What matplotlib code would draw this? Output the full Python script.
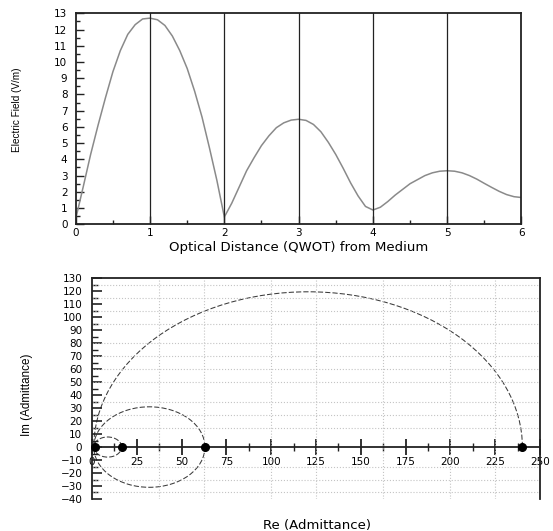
import numpy as np
import matplotlib
matplotlib.use('Agg')
import matplotlib.pyplot as plt
from matplotlib.patches import Arc
from matplotlib.ticker import MultipleLocator

##
## Electric field through the stack (step 0.1 QWOT)
##
qwot = [0.0, 0.1, 0.2, 0.3, 0.4, 0.5, 0.6, 0.7, 0.8, 0.9,
        1.0, 1.1, 1.2, 1.3, 1.4, 1.5, 1.6, 1.7, 1.8, 1.9,
        2.0, 2.1, 2.2, 2.3, 2.4, 2.5, 2.6, 2.7, 2.8, 2.9,
        3.0, 3.1, 3.2, 3.3, 3.4, 3.5, 3.6, 3.7, 3.8, 3.9,
        4.0, 4.1, 4.2, 4.3, 4.4, 4.5, 4.6, 4.7, 4.8, 4.9,
        5.0, 5.1, 5.2, 5.3, 5.4, 5.5, 5.6, 5.7, 5.8, 5.9, 6.0]
efield = [0.35, 2.3, 4.3, 6.1, 7.8, 9.4, 10.7, 11.7, 12.3, 12.65,
          12.7, 12.6, 12.25, 11.6, 10.7, 9.6, 8.2, 6.6, 4.7, 2.7,
          0.45, 1.3, 2.3, 3.3, 4.1, 4.85, 5.45, 5.95, 6.25, 6.42,
          6.47, 6.4, 6.15, 5.7, 5.05, 4.3, 3.45, 2.55, 1.75, 1.1,
          0.88, 1.05, 1.4, 1.8, 2.15, 2.5, 2.75, 3.0, 3.17, 3.27,
          3.3, 3.27, 3.17, 3.0, 2.78, 2.52, 2.27, 2.03, 1.83, 1.7, 1.65]
layer_bounds = [1, 2, 3, 4, 5]

##
## Admittance loci: circles centred on the real axis (centre, radius, arc)
##
circ_centre = [120.6, 32.0, 8.75]
circ_radius = [119.6, 31.0, 7.75]
circ_theta2 = [180, 360, 360]
## admittance at the layer boundaries
node_re = [1.5, 16.5, 63.0, 240.0]
node_im = [0.0, 0.0, 0.0, 0.0]

## grid positions that survive in the picture
xgrid = [37.5, 62.5, 100, 125, 162.5, 200, 225]
ygrid = [125, 115, 105, 95, 80, 70, 60, 50, 35, 25, 15, -15, -25, -35]

narrow = ['Liberation Sans Narrow', 'Liberation Sans', 'DejaVu Sans']
wide = 'DejaVu Sans'
ls = 7.5

fig = plt.figure(figsize=(5.53, 5.31), dpi=100, facecolor='w')

##
##  Top: electric field
##
ax = fig.add_axes([0.137, 0.5776, 0.806, 0.3974])
ax.plot(qwot, efield, color='#8a8a8a', lw=1.1)
for x in layer_bounds:
    ax.axvline(x=x, color='#222222', lw=0.9)
ax.set_xlim(0, 6)
ax.set_ylim(0, 13)
ax.xaxis.set_major_locator(MultipleLocator(1))
ax.xaxis.set_minor_locator(MultipleLocator(0.5))
ax.yaxis.set_major_locator(MultipleLocator(1))
ax.yaxis.set_minor_locator(MultipleLocator(0.5))
ax.tick_params(axis='both', which='major', direction='in', length=6, width=1.0,
               labelsize=ls, color='#222222')
ax.tick_params(axis='both', which='minor', direction='in', length=3, width=1.0,
               color='#222222')
ax.tick_params(axis='y', which='major', pad=6)
ax.tick_params(axis='x', which='major', pad=3)
for lab in ax.get_xticklabels() + ax.get_yticklabels():
    lab.set_family(wide)
for s in ax.spines.values():
    s.set_linewidth(1.3)
    s.set_color('#222222')
ax.set_xlabel('Optical Distance (QWOT) from Medium', family=wide, fontsize=9.5)
ax.xaxis.set_label_coords(0.50, -0.112)
ax.xaxis.label.set_va('center')
ax.set_ylabel('Electric Field (V/m)', family=narrow, fontsize=7.2)
ax.yaxis.set_label_coords(-0.1316, 0.542)
ax.yaxis.label.set_va('center')

##
##  Bottom: admittance diagram
##
ax1 = fig.add_axes([0.1664, 0.0603, 0.810, 0.4156])
for x in xgrid:
    ax1.axvline(x=x, ls=':', color='#c4c4c4', lw=0.8)
for y in ygrid:
    ax1.axhline(y=y, ls=':', color='#c4c4c4', lw=0.8)
for c, r, t2 in zip(circ_centre, circ_radius, circ_theta2):
    arc = Arc((c, 0), 2*r, 2*r, theta1=0, theta2=t2, color='#3a3a3a',
              lw=0.75, ls=(0, (5, 2)))
    ax1.add_patch(arc)
ax1.plot(node_re, node_im, 'o', color='k', ms=5.5, clip_on=False, zorder=5)

ax1.set_xlim(0, 250)
ax1.set_ylim(-40, 130)
ax1.spines['bottom'].set_position(('data', 0))
for s in ax1.spines.values():
    s.set_linewidth(1.3)
    s.set_color('#222222')
ax1.xaxis.set_major_locator(MultipleLocator(25))
ax1.xaxis.set_minor_locator(MultipleLocator(12.5))
ax1.yaxis.set_major_locator(MultipleLocator(10))
ax1.yaxis.set_minor_locator(MultipleLocator(5))
ax1.tick_params(axis='x', which='major', direction='inout', length=11, width=1.3,
                labelsize=ls, pad=2, color='#222222')
ax1.tick_params(axis='x', which='minor', direction='inout', length=6, width=1.0,
                color='#222222')
ax1.tick_params(axis='y', which='major', direction='in', length=7, width=1.2,
                labelsize=ls, pad=7, color='#222222')
ax1.tick_params(axis='y', which='minor', direction='in', length=4, width=1.0,
                color='#222222')
for lab in ax1.get_xticklabels() + ax1.get_yticklabels():
    lab.set_family(wide)
ax1.set_xlabel('Re (Admittance)', family=wide, fontsize=9.5)
ax1.xaxis.set_label_coords(0.502, -0.118)
ax1.xaxis.label.set_va('center')
ax1.set_ylabel('Im (Admittance)', family=narrow, fontsize=8.4)
ax1.yaxis.set_label_coords(-0.1458, 0.471)
ax1.yaxis.label.set_va('center')

plt.savefig('out.png', dpi=100)
plt.close()
